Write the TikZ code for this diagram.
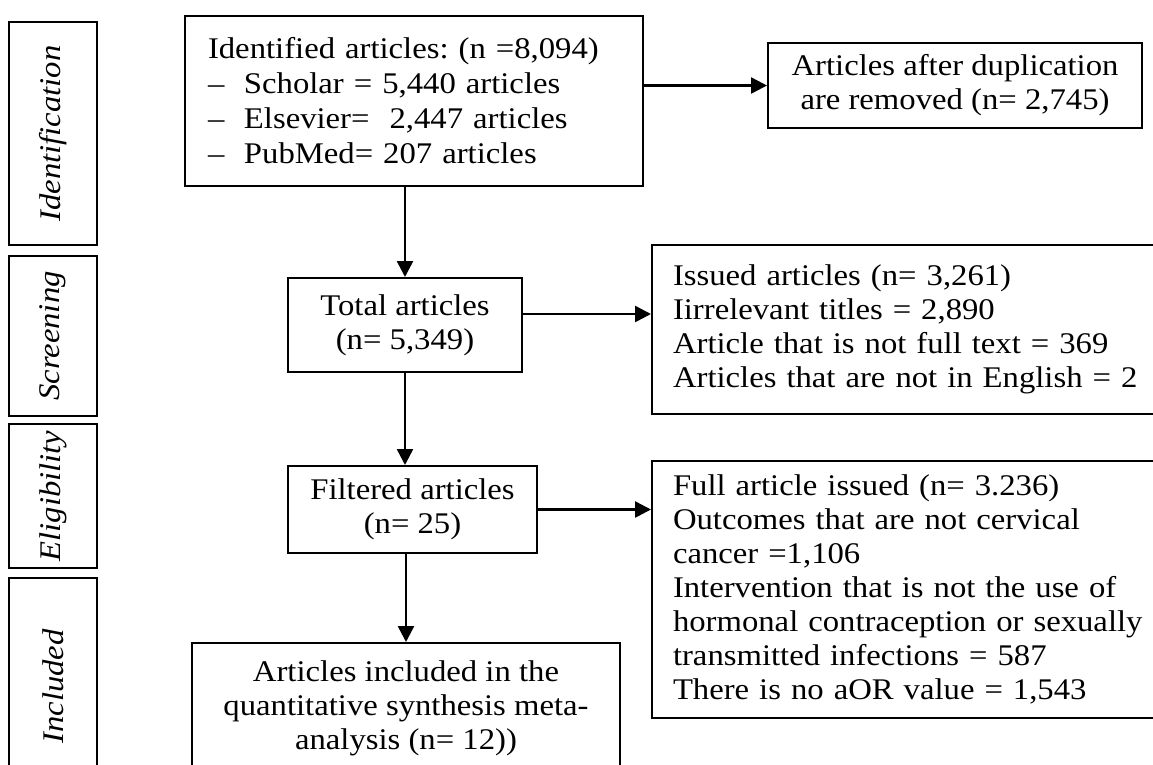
\documentclass[tikz,border=0pt]{standalone}
\usepackage{fontspec}
\setmainfont{Liberation Serif}[FakeStretch=1.09]
\usetikzlibrary{arrows.meta,positioning,calc}
\frenchspacing

\tikzset{
  box/.style={draw, line width=2pt, inner sep=0pt, align=center},
  listbox/.style={draw, line width=2pt, inner ysep=0pt, inner xsep=21pt, align=left, anchor=north west},
  stagebox/.style={draw, line width=2pt, rotate=90, inner sep=0pt, minimum height=88pt, font=\fontsize{30}{34}\selectfont\itshape},
  arr/.style={line width=2.5pt, -{Triangle[length=16pt,width=16pt]}}
}
\newcommand{\itm}{\makebox[36pt][l]{--}}

\begin{document}
\begin{tikzpicture}[x=1pt, y=-1pt, font=\fontsize{30}{34}\selectfont]
        \clip (0,0) rectangle (1153,764);

        % Stage boxes on the left
        \foreach \name/\y/\len/\txt in {sIdent/133.5/223/Identification, sScreen/336/160/Screening, sElig/496/144/Eligibility, sIncl/686.5/217/Included} {
            \node[stagebox, minimum width=\len pt] (\name) at (53,\y) {\txt};
        }

        % Main column
        \node[listbox, inner xsep=23pt, text width=412pt, minimum height=170pt, font=\fontsize{30}{35}\selectfont] (ident) at (184,15) {Identified articles: (n =8,094)\\
            \itm Scholar = 5,440 articles\\
            \itm Elsevier=\ \ 2,447 articles\\
            \itm PubMed= 207 articles};
        \node[box, minimum width=234pt, minimum height=94pt] (total) at (405,325) {Total articles\\(n= 5,349)};
        \node[box, minimum width=249pt, minimum height=87pt] (filtered) at (412.5,509.5) {Filtered articles\\(n= 25)};
        \node[box, minimum width=428pt, minimum height=130pt] (incl) at (406,708) {Articles included in the\\quantitative synthesis meta-\\analysis (n= 12))};

        % Side boxes
        \node[box, minimum width=374pt, minimum height=85pt] (dup) at (955,85.5) {Articles after duplication\\are removed (n= 2,745)};
        \node[listbox, text width=477pt, minimum height=169pt] (issued) at (651,244) {Issued articles (n= 3,261)\\
            Iirrelevant titles = 2,890\\
            Article that is not full text = 369\\
            Articles that are not in English = 2};
        \node[listbox, text width=477pt, minimum height=257pt] (full) at (651,460) {Full article issued (n= 3.236)\\
            Outcomes that are not cervical\\
            cancer =1,106\\
            Intervention that is not the use of\\
            hormonal contraception or sexually\\
            transmitted infections = 587\\
            There is no aOR value = 1,543};

        % Arrows
        \draw[arr] (dup.west -| ident.east) -- (dup.west);
        \draw[arr] (total.north |- ident.south) -- (total.north);
        \draw[arr] ([yshift=11pt]total.east) -- ([yshift=11pt]total.east -| issued.west);
        \draw[arr] (total.south) -- (total.south |- filtered.north);
        \draw[arr] (filtered.east) -- (filtered.east -| full.west);
        \draw[arr] (incl.north |- filtered.south) -- (incl.north);
    \end{tikzpicture}
\end{document}
